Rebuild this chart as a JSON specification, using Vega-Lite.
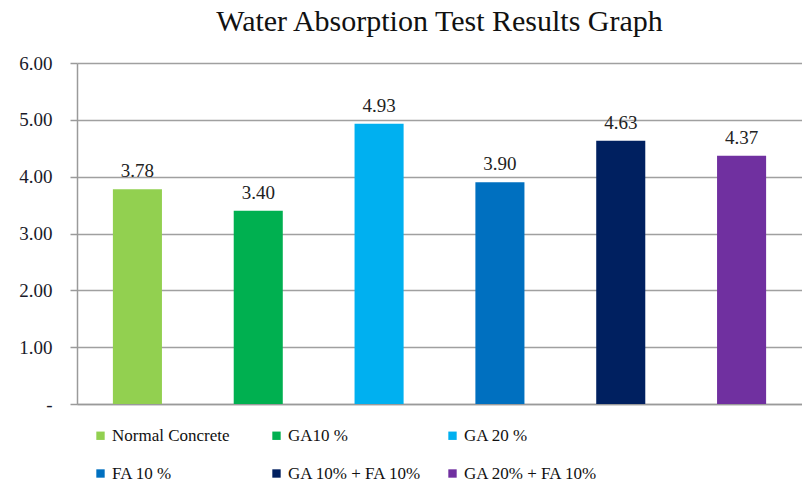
{
  "$schema": "https://vega.github.io/schema/vega-lite/v6.json",
  "autosize": "none",
  "width": 725,
  "height": 341,
  "padding": {"left": 77, "top": 63, "right": 0, "bottom": 85},
  "background": "white",
  "title": {
    "text": "Water Absorption Test Results Graph",
    "font": "Liberation Serif",
    "fontSize": 30,
    "fontWeight": "normal",
    "color": "#111111",
    "anchor": "middle",
    "offset": 17
  },
  "data": {
    "values": [
      {"mix": "Normal Concrete", "value": 3.78},
      {"mix": "GA10 %", "value": 3.40},
      {"mix": "GA 20 %", "value": 4.93},
      {"mix": "FA 10 %", "value": 3.90},
      {"mix": "GA 10% + FA 10%", "value": 4.63},
      {"mix": "GA 20% + FA 10%", "value": 4.37}
    ]
  },
  "config": {
    "view": {"stroke": null},
    "font": "Liberation Serif"
  },
  "encoding": {
    "x": {
      "field": "mix",
      "type": "nominal",
      "sort": null,
      "scale": {"paddingInner": 0.594, "paddingOuter": 0.297},
      "axis": {
        "title": null,
        "labels": false,
        "ticks": false,
        "domain": true,
        "domainColor": "#9a9a9a",
        "domainWidth": 1.5
      }
    },
    "y": {
      "field": "value",
      "type": "quantitative",
      "scale": {"domain": [0, 6], "nice": false},
      "axis": {
        "title": null,
        "values": [0, 1, 2, 3, 4, 5, 6],
        "labelExpr": "datum.value == 0 ? '-' : format(datum.value, '.2f')",
        "labelFont": "Liberation Serif",
        "labelFontSize": 19,
        "labelFontWeight": "normal",
        "labelColor": "#1a1a2a",
        "labelPadding": 18,
        "tickSize": 7,
        "tickColor": "#9a9a9a",
        "tickWidth": 1.5,
        "domainColor": "#9a9a9a",
        "domainWidth": 1.5,
        "grid": true,
        "gridColor": "#a0a0a0",
        "gridWidth": 1.5
      }
    }
  },
  "layer": [
    {
      "mark": {"type": "bar"},
      "encoding": {
        "color": {
          "field": "mix",
          "type": "nominal",
          "sort": null,
          "scale": {
            "domain": ["Normal Concrete", "GA10 %", "GA 20 %", "FA 10 %", "GA 10% + FA 10%", "GA 20% + FA 10%"],
            "range": ["#92D050", "#00B050", "#00B0F0", "#0070C0", "#002060", "#7030A0"]
          },
          "legend": {
            "title": null,
            "orient": "none",
            "legendX": 15,
            "legendY": 364,
            "direction": "horizontal",
            "columns": 3,
            "gridAlign": "all",
            "columnPadding": 22,
            "rowPadding": 20,
            "padding": 0,
            "symbolType": "square",
            "symbolSize": 70,
            "symbolStrokeWidth": 0,
            "labelFont": "Liberation Serif",
            "labelFontSize": 17,
            "labelFontWeight": "normal",
            "labelColor": "#111111",
            "labelOffset": 3,
            "labelLimit": 200
          }
        }
      }
    },
    {
      "mark": {"type": "text", "dy": -18, "font": "Liberation Serif", "fontSize": 19, "color": "#222222"},
      "encoding": {
        "text": {"field": "value", "type": "quantitative", "format": ".2f"}
      }
    }
  ]
}
